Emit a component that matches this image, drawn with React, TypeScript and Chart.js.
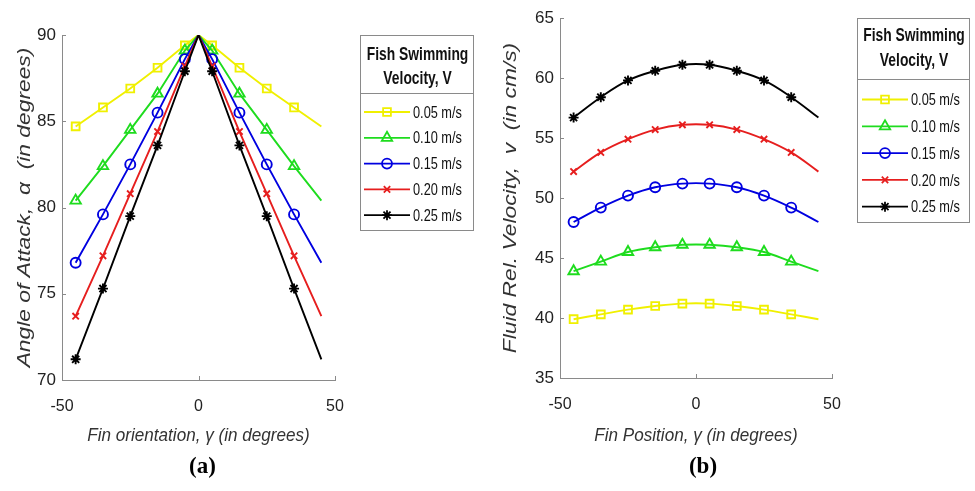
import React, { useEffect, useRef } from "react";
import { Chart, registerables } from "chart.js";
import { drawPoint } from "chart.js/helpers";

Chart.register(...registerables);

// ---------- Data ----------
const SERIES_LABELS = ["0.05 m/s", "0.10 m/s", "0.15 m/s", "0.20 m/s", "0.25 m/s"];
const SERIES_COLORS = ["#f0f000", "#1edc1e", "#0000e0", "#e61e1e", "#000000"];
const SERIES_MARKERS = ["rect", "triangle", "circle", "crossRot", "star"];
const MARKER_RADII = [5.5, 6, 5, 4.5, 5];

// (a) Angle of attack vs fin orientation
const A_X = [-45, -35, -25, -15, -5, 0, 5, 15, 25, 35, 45];
const A_MARKED = [true, true, true, true, true, false, true, true, true, true, false];
const A_V005 = [84.7, 85.8, 86.9, 88.1, 89.4, 90, 89.4, 88.1, 86.9, 85.8, 84.7];
const A_V010 = [80.4, 82.4, 84.5, 86.6, 89.1, 90, 89.1, 86.6, 84.5, 82.4, 80.4];
const A_V015 = [76.8, 79.6, 82.5, 85.5, 88.6, 90, 88.6, 85.5, 82.5, 79.6, 76.8];
const A_V020 = [73.7, 77.2, 80.8, 84.4, 88.2, 90, 88.2, 84.4, 80.8, 77.2, 73.7];
const A_V025 = [71.2, 75.3, 79.5, 83.6, 87.9, 90, 87.9, 83.6, 79.5, 75.3, 71.2];

// (b) Fluid relative velocity vs fin position
const B_X = [-45, -35, -25, -15, -5, 5, 15, 25, 35, 45];
const B_MARKED = [true, true, true, true, true, true, true, true, true, false];
const B_V005 = [39.9, 40.3, 40.7, 41.0, 41.2, 41.2, 41.0, 40.7, 40.3, 39.9];
const B_V010 = [43.9, 44.7, 45.5, 45.9, 46.1, 46.1, 45.9, 45.5, 44.7, 43.9];
const B_V015 = [48.0, 49.2, 50.2, 50.9, 51.2, 51.2, 50.9, 50.2, 49.2, 48.0];
const B_V020 = [52.2, 53.8, 54.9, 55.7, 56.1, 56.1, 55.7, 54.9, 53.8, 52.2];
const B_V025 = [56.7, 58.4, 59.8, 60.6, 61.1, 61.1, 60.6, 59.8, 58.4, 56.7];

const A_Y_TICKS = { min: 70, max: 90, step: 5 };
const B_Y_TICKS = { min: 35, max: 65, step: 5 };
const X_TICKS = { min: -50, max: 50, step: 50 };

const LEGEND_TITLE = ["Fish Swimming", "Velocity, V"];

const SANS = "'Liberation Sans', Arial, Helvetica, sans-serif";
const AXIS_GRAY = "#8a8a8a";

// draw text squeezed/stretched along its own direction
function drawScaledText(ctx: any, text: string, x: number, y: number, font: string, sx: number, align: string, vertical = false) {
  ctx.save();
  ctx.translate(x, y);
  if (vertical) ctx.rotate(-Math.PI / 2);
  ctx.scale(sx, 1);
  ctx.font = font;
  ctx.textAlign = align;
  ctx.textBaseline = "middle";
  ctx.fillText(text, 0, 0);
  ctx.restore();
}

// ---------- Plugins ----------
const inwardTicks = {
  id: "inwardTicks",
  afterDatasetsDraw(chart: any) {
    const { ctx, chartArea, scales } = chart;
    ctx.save();
    ctx.strokeStyle = AXIS_GRAY;
    ctx.lineWidth = 1;
    scales.x.ticks.forEach((t: any) => {
      const px = Math.round(scales.x.getPixelForValue(t.value)) + 0.5;
      ctx.beginPath();
      ctx.moveTo(px, chartArea.bottom);
      ctx.lineTo(px, chartArea.bottom - 4);
      ctx.stroke();
    });
    scales.y.ticks.forEach((t: any) => {
      const py = Math.round(scales.y.getPixelForValue(t.value)) + 0.5;
      ctx.beginPath();
      ctx.moveTo(chartArea.left, py);
      ctx.lineTo(chartArea.left + 4, py);
      ctx.stroke();
    });
    ctx.restore();
  },
};

const axisTitles = {
  id: "axisTitles",
  afterDraw(chart: any, _args: any, o: any) {
    const { ctx, chartArea } = chart;
    ctx.save();
    ctx.fillStyle = "#333";
    const cx = (chartArea.left + chartArea.right) / 2;
    const cy = (chartArea.top + chartArea.bottom) / 2;
    drawScaledText(ctx, o.xTitle, cx, o.xTitleY, `italic 19px ${SANS}`, 0.9, "center");
    drawScaledText(ctx, o.yTitle, o.yTitleX, cy, `italic 19px ${SANS}`, o.yStretch, "center", true);
    ctx.fillStyle = "#000";
    ctx.font = "bold 23px 'Liberation Serif', 'Times New Roman', serif";
    ctx.textAlign = "center";
    ctx.textBaseline = "middle";
    ctx.fillText(o.panel, cx + o.panelDx, o.panelY);
    ctx.restore();
  },
};

const boxLegend = {
  id: "boxLegend",
  afterDraw(chart: any, _args: any, o: any) {
    const { ctx } = chart;
    ctx.save();
    ctx.fillStyle = "#fff";
    ctx.fillRect(o.left, o.top, o.right - o.left, o.bottom - o.top);
    ctx.strokeStyle = AXIS_GRAY;
    ctx.lineWidth = 1;
    ctx.strokeRect(o.left + 0.5, o.top + 0.5, o.right - o.left, o.bottom - o.top);
    ctx.beginPath();
    ctx.moveTo(o.left, Math.round(o.sepY) + 0.5);
    ctx.lineTo(o.right, Math.round(o.sepY) + 0.5);
    ctx.stroke();
    ctx.fillStyle = "#111";
    LEGEND_TITLE.forEach((t, i) =>
      drawScaledText(ctx, t, (o.left + o.right) / 2 + 1, o.titleY[i], `bold 18px ${SANS}`, 0.77, "center")
    );
    chart.data.datasets.forEach((ds: any, i: number) => {
      const y = o.entryY0 + i * o.entryStep;
      ctx.strokeStyle = ds.borderColor;
      ctx.lineWidth = 1.8;
      ctx.beginPath();
      ctx.moveTo(o.lineX0, y);
      ctx.lineTo(o.lineX1, y);
      ctx.stroke();
      ctx.fillStyle = "rgba(0,0,0,0)";
      drawPoint(ctx, { pointStyle: ds.pointStyle, rotation: 0, radius: ds.legendRadius, borderWidth: 1.8 }, (o.lineX0 + o.lineX1) / 2, y);
      ctx.fillStyle = "#111";
      drawScaledText(ctx, ds.label, o.textX, y + 1, `17px ${SANS}`, 0.75, "left");
    });
    ctx.restore();
  },
};

// ---------- Config builder ----------
function buildDatasets(xs: number[], marked: boolean[], series: number[][], tension: number) {
  return series.map((vals, i) => ({
    label: SERIES_LABELS[i],
    data: xs.map((x, j) => ({ x, y: vals[j] })),
    borderColor: SERIES_COLORS[i],
    borderWidth: 1.9,
    pointStyle: SERIES_MARKERS[i],
    pointRadius: marked.map((m) => (m ? MARKER_RADII[i] : 0)),
    legendRadius: MARKER_RADII[i],
    pointBorderColor: SERIES_COLORS[i],
    pointBackgroundColor: "rgba(0,0,0,0)",
    pointBorderWidth: 1.9,
    tension,
    order: 5 - i,
  }));
}

function buildConfig(p: any) {
  return {
    type: "line",
    data: { datasets: buildDatasets(p.xs, p.marked, p.series, p.tension) },
    plugins: [inwardTicks, boxLegend, axisTitles],
    options: {
      responsive: false,
      animation: false,
      layout: { padding: { left: 0, top: p.padTop, right: p.padRight, bottom: 491 - p.areaBottom - p.xHeight } },
      plugins: {
        legend: { display: false },
        tooltip: { enabled: false },
        title: { display: false },
        boxLegend: p.legend,
        axisTitles: {
          xTitle: p.xTitle,
          yTitle: p.yTitle,
          xTitleY: 436,
          yTitleX: p.yTitleX,
          yStretch: p.yStretch,
          panel: p.panel,
          panelY: 467,
          panelDx: p.panelDx,
        },
      },
      scales: {
        x: {
          type: "linear",
          min: X_TICKS.min,
          max: X_TICKS.max,
          afterFit: (s: any) => { s.height = p.xHeight; },
          ticks: { stepSize: X_TICKS.step, color: "#222", padding: 17, font: { family: SANS, size: 16 } },
          grid: { display: false, drawTicks: false },
          border: { display: true, color: AXIS_GRAY, width: 1 },
          title: { display: false },
        },
        y: {
          type: "linear",
          min: p.yTicks.min,
          max: p.yTicks.max,
          afterFit: (s: any) => { s.width = p.yWidth; },
          ticks: { stepSize: p.yTicks.step, color: "#222", padding: 6, font: { family: SANS, size: 17 } },
          grid: { display: false, drawTicks: false },
          border: { display: true, color: AXIS_GRAY, width: 1 },
          title: { display: false },
        },
      },
    },
  };
}

const PANEL_A = {
  xs: A_X,
  marked: A_MARKED,
  series: [A_V005, A_V010, A_V015, A_V020, A_V025],
  tension: 0,
  panel: "(a)",
  panelDx: 4,
  xTitle: "Fin orientation, γ (in degrees)",
  yTitle: "Angle of Attack,  α  (in degrees)",
  yTitleX: 25,
  yStretch: 1.2,
  yTicks: A_Y_TICKS,
  padTop: 35,
  padRight: 152,
  areaBottom: 380,
  xHeight: 60,
  yWidth: 62,
  legend: {
    left: 360, right: 473, top: 35, bottom: 230,
    titleY: [55, 79], sepY: 93,
    entryY0: 112, entryStep: 25.8,
    lineX0: 364, lineX1: 410, textX: 413,
  },
};

const PANEL_B = {
  xs: B_X,
  marked: B_MARKED,
  series: [B_V005, B_V010, B_V015, B_V020, B_V025],
  tension: 0.4,
  panel: "(b)",
  panelDx: 7,
  xTitle: "Fin Position, γ (in degrees)",
  yTitle: "Fluid Rel. Velocity,  v  (in cm/s)",
  yTitleX: 24,
  yStretch: 1.2,
  yTicks: B_Y_TICKS,
  padTop: 18,
  padRight: 143,
  areaBottom: 378,
  xHeight: 60,
  yWidth: 73,
  legend: {
    left: 370, right: 482, top: 18, bottom: 222,
    titleY: [36, 61], sepY: 79,
    entryY0: 99.5, entryStep: 26.8,
    lineX0: 375, lineX1: 421, textX: 424,
  },
};

function Panel({ cfg, left, width }: { cfg: any; left: number; width: number }) {
  const ref = useRef<HTMLCanvasElement | null>(null);
  useEffect(() => {
    if (!ref.current) return;
    const chart = new Chart(ref.current, buildConfig(cfg) as any);
    return () => chart.destroy();
  }, [cfg]);
  return (
    <canvas
      ref={ref}
      width={width}
      height={491}
      style={{ position: "absolute", left, top: 0, width, height: 491 }}
    />
  );
}

export default function App() {
  return (
    <div style={{ position: "absolute", left: 0, top: 0, width: 975, height: 491, background: "#fff", overflow: "hidden" }}>
      <Panel cfg={PANEL_A} left={0} width={487} />
      <Panel cfg={PANEL_B} left={487} width={488} />
    </div>
  );
}
